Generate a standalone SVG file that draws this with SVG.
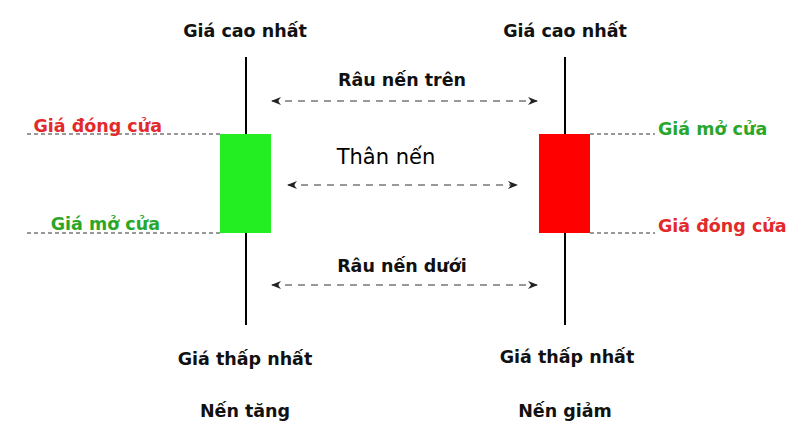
<svg xmlns="http://www.w3.org/2000/svg" width="800" height="436" viewBox="0 0 800 436">
<style>
text{font-family:"DejaVu Sans","Liberation Sans",sans-serif;font-weight:bold;font-size:17.5px;fill:#111}
.c{text-anchor:middle}
.e{text-anchor:end}
.red{fill:#e32a2a}.grn{fill:#2aa62a}
.dash{stroke:#333;stroke-width:1;stroke-dasharray:4 3}
.arr{stroke:#333;stroke-width:1;stroke-dasharray:7 6;marker-start:url(#a);marker-end:url(#a)}
.wick{stroke:#000;stroke-width:2}
</style>
<defs><marker id="a" viewBox="0 0 10 8" refX="9" refY="4" markerWidth="10" markerHeight="8" orient="auto-start-reverse" markerUnits="userSpaceOnUse"><path d="M0,0 L10,4 L0,8 L3,4 Z" fill="#222"/></marker></defs>
<rect width="800" height="436" fill="#fff"/>
<g id="connectors">
<line class="arr" x1="272" y1="101" x2="537" y2="101"/>
<line class="arr" x1="288" y1="185" x2="517" y2="185"/>
<line class="arr" x1="272" y1="285" x2="537" y2="285"/>
<line class="dash" x1="27" y1="134" x2="220" y2="134"/>
<line class="dash" x1="27" y1="233" x2="220" y2="233"/>
<line class="dash" x1="590" y1="134" x2="655" y2="134"/>
<line class="dash" x1="590" y1="233" x2="655" y2="233"/>
</g>
<g id="green-candle">
<line class="wick" x1="246" y1="57" x2="246" y2="325"/>
<rect x="220" y="134" width="51" height="99" fill="#22ee22"/>
</g>
<g id="red-candle">
<line class="wick" x1="565" y1="57" x2="565" y2="325"/>
<rect x="539" y="134" width="51" height="99" fill="#ff0000"/>
</g>
<g id="labels">
<text class="c" x="245" y="37">Giá cao nhất</text>
<text class="c" x="565" y="37">Giá cao nhất</text>
<text class="c" x="402" y="86">Râu nến trên</text>
<text class="c" x="386" y="164" style="font-size:21px;font-weight:normal;fill:#000">Thân nến</text>
<text class="c" x="402" y="272">Râu nến dưới</text>
<text class="red e" x="162" y="132">Giá đóng cửa</text>
<text class="grn e" x="160" y="230">Giá mở cửa</text>
<text class="grn" x="658" y="135">Giá mở cửa</text>
<text class="red" x="658" y="232">Giá đóng cửa</text>
<text class="c" x="245" y="365">Giá thấp nhất</text>
<text class="c" x="567" y="363">Giá thấp nhất</text>
<text class="c" x="245" y="417">Nến tăng</text>
<text class="c" x="565" y="417">Nến giảm</text>
</g>
</svg>
